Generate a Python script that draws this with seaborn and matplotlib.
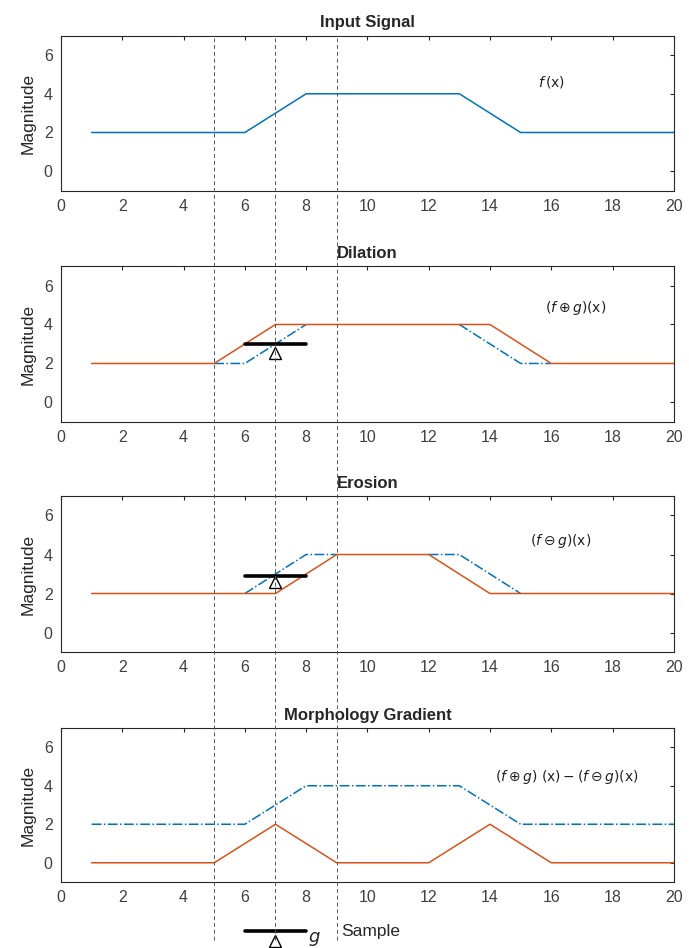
import numpy as np
import matplotlib
matplotlib.use("Agg")
import matplotlib.pyplot as plt
from matplotlib.lines import Line2D
import seaborn as sns

# sample positions and signals
samples = list(range(1, 21))
f_signal = [2, 2, 2, 2, 2, 2, 3, 4, 4, 4, 4, 4, 4, 3, 2, 2, 2, 2, 2, 2]
dilation = [2, 2, 2, 2, 2, 3, 4, 4, 4, 4, 4, 4, 4, 4, 3, 2, 2, 2, 2, 2]
erosion = [2, 2, 2, 2, 2, 2, 2, 3, 4, 4, 4, 4, 3, 2, 2, 2, 2, 2, 2, 2]
gradient = [0, 0, 0, 0, 0, 1, 2, 1, 0, 0, 0, 0, 1, 2, 1, 0, 0, 0, 0, 0]

# parts of the input shown dash-dot behind dilation / erosion
dil_ref_segments = [([5, 6, 7, 8], [2, 2, 3, 4]), ([13, 14, 15, 16], [4, 3, 2, 2])]
ero_ref_segments = [([6, 7, 8, 9], [2, 3, 4, 4]), ([12, 13, 14, 15], [4, 4, 3, 2])]

titles = ["Input Signal", "Dilation", "Erosion", "Morphology Gradient"]
annotations = [r"$f\,(\mathrm{x})$",
               r"$(f \oplus g)(\mathrm{x})$",
               r"$(f \ominus g)(\mathrm{x})$",
               r"$(f \oplus g)\ (\mathrm{x}) - (f \ominus g)(\mathrm{x})$"]
ann_pos = [(16.0, 4.6), (16.8, 4.85), (16.3, 4.7), (16.5, 4.45)]
guide_x = [5, 7, 9]

# structuring element (bar from 6 to 8, origin at 7)
se_x = [6, 8]
se_origin = 7
se_levels = [3.0, 2.9]        # bar height in dilation / erosion panels
se_tri_levels = [2.55, 2.6]

BLUE = "#0072BD"
RED = "#D95319"

sns.set_theme(style="white")
plt.rcParams["font.family"] = ["Liberation Sans", "DejaVu Sans"]
plt.rcParams["mathtext.fontset"] = "dejavusans"

fig = plt.figure(figsize=(6.89, 9.48), dpi=100)
positions = [
    [0.0885, 0.799, 0.8895, 0.1633],
    [0.0885, 0.5549, 0.8895, 0.1645],
    [0.0885, 0.3122, 0.8895, 0.1646],
    [0.0885, 0.0696, 0.8895, 0.1625],
]
axes = [fig.add_axes(p) for p in positions]

for i, ax in enumerate(axes):
    if i == 0:
        sns.lineplot(x=samples, y=f_signal, ax=ax, color=BLUE, lw=1.1)
    elif i == 1:
        for sx, sy in dil_ref_segments:
            sns.lineplot(x=sx, y=sy, ax=ax, color=BLUE, lw=1.1, linestyle="-.")
        sns.lineplot(x=samples, y=dilation, ax=ax, color=RED, lw=1.1)
    elif i == 2:
        for sx, sy in ero_ref_segments:
            sns.lineplot(x=sx, y=sy, ax=ax, color=BLUE, lw=1.1, linestyle="-.")
        sns.lineplot(x=samples, y=erosion, ax=ax, color=RED, lw=1.1)
    else:
        sns.lineplot(x=samples, y=f_signal, ax=ax, color=BLUE, lw=1.1, linestyle="-.")
        sns.lineplot(x=samples, y=gradient, ax=ax, color=RED, lw=1.1)

    if i in (1, 2):
        ax.plot(se_x, [se_levels[i - 1]] * 2, color="black", lw=2.6, zorder=5)
        ax.plot([se_origin], [se_tri_levels[i - 1]], marker="^", ms=8,
                mfc="white", mec="black", mew=1.0, zorder=6)

    ax.set_xlim(0, 20)
    ax.set_ylim(-1, 7)
    ax.set_xticks(range(0, 21, 2))
    ax.set_yticks([0, 2, 4, 6])
    ax.tick_params(direction="in", length=3, width=0.8, top=True, right=True,
                   labelsize=11.5, labelcolor="#404040", color="#262626", pad=6)
    for sp in ax.spines.values():
        sp.set_color("#262626")
        sp.set_linewidth(0.8)
    ax.set_title(titles[i], fontsize=12, fontweight="bold", pad=6)
    ax.set_ylabel("Magnitude", fontsize=12.5, color="#262626", labelpad=6)
    ax.set_xlabel("")
    ax.text(ann_pos[i][0], ann_pos[i][1], annotations[i], fontsize=10,
            ha="center", va="center", color="#202020")

# bottom structuring element legend "g"
ax = axes[3]
ax.plot(se_x, [-3.55, -3.55], color="black", lw=2.6, clip_on=False)
ax.plot([se_origin], [-4.05], marker="^", ms=8, mfc="white", mec="black",
        mew=1.0, clip_on=False)
ax.text(8.05, -3.95, r"$g$", fontsize=13, ha="left", va="center", clip_on=False)
ax.text(10.1, -3.55, "Sample", fontsize=12.5, ha="center", va="center",
        color="#262626", clip_on=False)

# dashed guide lines spanning all panels
for gx in guide_x:
    disp = axes[0].transData.transform((gx, 0))
    fx = fig.transFigure.inverted().transform(disp)[0]
    fig.add_artist(Line2D([fx, fx], [0.008, 0.96], transform=fig.transFigure,
                          color="#555555", lw=0.7, linestyle=(0, (4, 3))))

fig.savefig("out.png", dpi=100)
